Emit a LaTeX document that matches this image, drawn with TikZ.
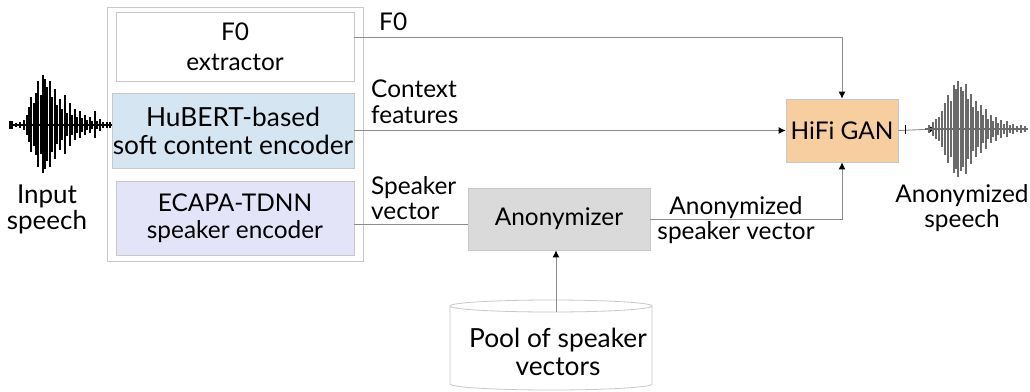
\documentclass[tikz,border=0pt]{standalone}
\usepackage{fontspec}
\setmainfont{Lato}
\usetikzlibrary{arrows.meta,calc}

\definecolor{lineg}{HTML}{8C8C8C}
\definecolor{boxg}{HTML}{C8C8C8}
\definecolor{hubertc}{HTML}{D5E5F2}
\definecolor{ecapac}{HTML}{E4E4F8}
\definecolor{anonc}{HTML}{DADADA}
\definecolor{hific}{HTML}{F7CE9F}
\definecolor{wavec}{HTML}{6A6A6A}

\tikzset{
  blockbox/.style={draw=boxg, line width=0.8pt, align=center, inner sep=0pt},
  conn/.style={draw=lineg, line width=0.9pt},
  tip/.style={-{Latex[length=7pt,width=7pt,color=black]}},
  lbl/.style={inner sep=0pt, align=left},
  lblc/.style={inner sep=0pt, align=center},
  wavebar/.style={line width=1.3pt},
  bigtext/.style={font=\fontsize{26.3}{28}\selectfont},
}

\begin{document}
\begin{tikzpicture}[x=1pt,y=-1pt,font=\fontsize{24.4}{25.5}\selectfont]
\useasboundingbox (0,0) rectangle (1030,391);

% encoder frame and its three blocks
\draw[draw=boxg, line width=0.8pt] (107,7) rectangle (363,261);
\node[blockbox, fill=white, minimum width=238pt, minimum height=69pt, font=\fontsize{24.4}{30}\selectfont] (f0box) at (235,46.5) {F0\\extractor};
\node[blockbox, fill=hubertc, minimum width=242pt, minimum height=75pt, bigtext] (hubert) at (233,130.5) {HuBERT-based\\soft content encoder};
\node[blockbox, fill=ecapac, minimum width=238pt, minimum height=74pt, font=\fontsize{24.4}{27}\selectfont] (ecapa) at (235,218) {ECAPA-TDNN\\speaker encoder};

% anonymizer and vocoder
\node[blockbox, fill=anonc, minimum width=182pt, minimum height=62pt] (anon) at (559,219) {Anonymizer};
\node[blockbox, fill=hific, minimum width=112pt, minimum height=63pt] (hifi) at (842,130.5) {HiFi GAN};

% speaker vector pool (cylinder)
\draw[draw=boxg, line width=0.8pt, fill=white]
  (450,306) -- (450,384) arc[start angle=180, end angle=360, x radius=101pt, y radius=6pt]
  -- (652,306) arc[start angle=0, end angle=180, x radius=101pt, y radius=6pt] -- cycle;
\draw[draw=boxg, line width=0.8pt] (450,306) arc[start angle=180, end angle=360, x radius=101pt, y radius=6pt];
\node[lblc, bigtext] (pool) at (558,352) {Pool of speaker\\vectors};
\coordinate (pooltop) at (556,312);

% connectors
\coordinate (f0out) at ([yshift=9.5pt]f0box.east);
\draw[conn, tip] (f0out) -| (hifi.north);
\draw[conn, tip] (hubert.east) -- (hifi.west);
\coordinate (spkout) at ([yshift=-6pt]ecapa.east);
\draw[conn] (spkout) -- (spkout -| anon.west);
\draw[conn, tip] (anon.east) -| (hifi.south);
\draw[conn, tip] (pooltop) -- (pooltop |- anon.south);
\coordinate (wavout) at (936,129);
\draw[conn, tip] (hifi.east) -- (wavout);

% connector labels
\node[lbl, anchor=west] (lf0) at (379,22) {F0};
\node[lbl, anchor=west] (lctx) at (371,102) {Context\\features};
\node[lbl, anchor=west] (lspk) at (371,198) {Speaker\\vector};
\node[lblc] (lanon) at (736,220) {Anonymized\\speaker vector};

% input waveform
\draw[line width=1.3pt] (10,125) -- (112,125);
\fill (9,121) rectangle (13,129);
\foreach \x/\h in {16/2,20/3,24/5,27/10,29/18,31/28,34/22,36/32,38/44,41/30,43/50,45/46,47/38,50/44,52/28,55/36,57/20,60/26,62/16,65/30,67/12,70/22,72/10,75/16,77/8,80/14,82/7,85/10,87/5,90/8,92/4,95/14,97/4,100/6,103/3,107/3,110/3}
  \draw[wavebar] (\x,{125-\h}) -- (\x,{125+0.95*\h});
\node[lblc, font=\fontsize{26}{26}\selectfont] (lin) at (47,209) {Input\\speech};

% output waveform
\draw[line width=0.8pt] (905,125) -- (905,134);
\draw[wavec, line width=1.1pt] (925,129) -- (1028,129);
\foreach \x/\h in {929/4,933/7,936/10,939/12,942/18,945/26,948/34,951/28,954/44,956/40,958/48,961/42,963/38,966/45,968/30,971/35,973/22,976/28,978/18,981/24,983/14,986/20,988/10,991/14,993/8,996/12,998/6,1001/9,1004/5,1007/8,1010/4,1013/5,1017/3,1021/4,1025/3}
  \draw[wavebar, wavec, line width=1.2pt] (\x,{129-\h}) -- (\x,{129+\h});
\node[lblc] (lout) at (962,208) {Anonymized\\speech};
\end{tikzpicture}
\end{document}
